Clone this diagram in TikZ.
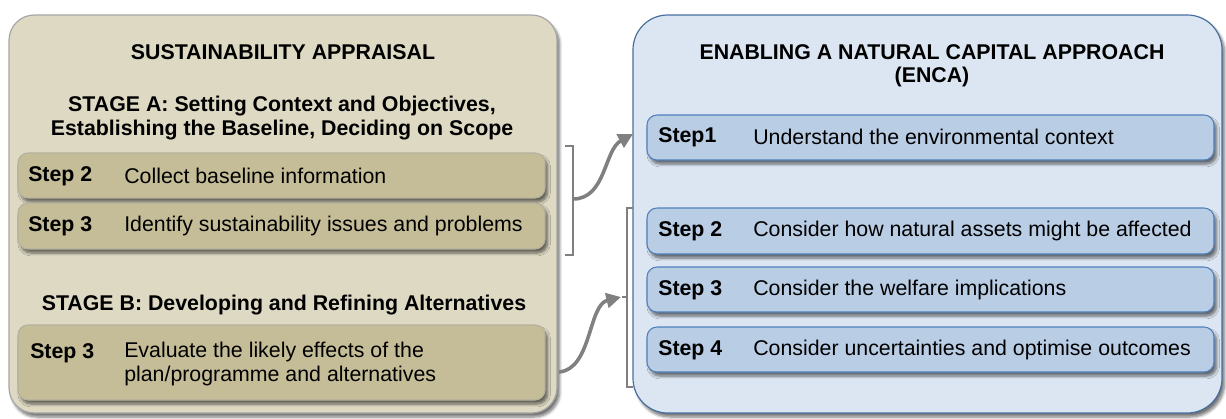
\documentclass[tikz,border=0pt]{standalone}
\usepackage{fontspec}
\setmainfont{Liberation Sans}
\usetikzlibrary{arrows.meta,fit,shadows.blur}
\definecolor{saback}{HTML}{DDD9C3}
\definecolor{saline}{HTML}{A6A6A6}
\definecolor{sastep}{HTML}{C4BD97}
\definecolor{sastepline}{HTML}{B4B09E}
\definecolor{enback}{HTML}{DCE6F2}
\definecolor{enline}{HTML}{4A6FA0}
\definecolor{enstep}{HTML}{B9CDE5}
\definecolor{enstepline}{HTML}{4F81BD}
\definecolor{conngray}{HTML}{808080}
\begin{document}
\begin{tikzpicture}[x=0.75pt, y=-0.75pt,
    every node/.style={font=\fontsize{16}{17.5}\selectfont, inner sep=0pt},
    shade/.style={blur shadow={shadow xshift=2pt, shadow yshift=-3pt, shadow blur steps=6, shadow opacity=55}},
    sabox/.style={shade, fill=saback, draw=saline, line width=0.9pt, rounded corners=19pt},
    enbox/.style={shade, fill=enback, draw=enline, line width=0.9pt, rounded corners=26pt},
    sastepbox/.style={shade, fill=sastep, draw=sastepline, line width=0.8pt, rounded corners=7.5pt},
    enstepbox/.style={shade, fill=enstep, draw=enstepline, line width=0.8pt, rounded corners=7.5pt},
    title/.style={font=\fontsize{16}{17.5}\selectfont\bfseries, align=center},
    lbl/.style={anchor=west, font=\fontsize{16}{17.5}\selectfont\bfseries},
    txt/.style={anchor=west, align=left},
    bracket/.style={draw=conngray, line width=2.1pt},
    conn/.style={draw=conngray, line width=2.7pt, -{Triangle[length=11pt,width=11pt]}}]
    \useasboundingbox (0,0) rectangle (1226,418);
    % big boxes
    \node[sabox, fit={(9,15) (557,413)}] (sa) {};
    \node[enbox, fit={(633,15) (1222,413)}] (en) {};
    % sustainability appraisal
    \node[title] (satitle) at (283,52) {SUSTAINABILITY APPRAISAL};
    \node[title] (stagea) at (282,118) {STAGE A: Setting Context and Objectives,\\Establishing the Baseline, Deciding on Scope};
    \node[sastepbox, fit={(18,153) (545,198)}] (sa2) {};
    \node[sastepbox, fit={(18,203) (545,249)}] (sa3) {};
    \node[title] (stageb) at (284,305) {STAGE B: Developing and Refining Alternatives};
    \node[sastepbox, fit={(18,325) (545,400)}] (sab3) {};
    \node[lbl] (sa2l) at (28,176) {Step 2};
    \node[txt] (sa2t) at (124,176) {Collect baseline information};
    \node[lbl] (sa3l) at (28,226) {Step 3};
    \node[txt] (sa3t) at (124,226) {Identify sustainability issues and problems};
    \node[lbl] (sab3l) at (30,353) {Step 3};
    \node[txt] (sab3t) at (124,364) {Evaluate the likely effects of the\\plan/programme and alternatives};
    % enca
    \node[title] (entitle) at (932,66) {ENABLING A NATURAL CAPITAL APPROACH\\(ENCA)};
    \node[enstepbox, fit={(647,115) (1214,160)}] (en1) {};
    \node[enstepbox, fit={(647,208) (1214,254)}] (en2) {};
    \node[enstepbox, fit={(647,267) (1214,312)}] (en3) {};
    \node[enstepbox, fit={(647,327) (1214,372)}] (en4) {};
    \node[lbl] (en1l) at (658,137) {Step1};
    \node[txt] (en1t) at (753,137) {Understand the environmental context};
    \node[lbl] (en2l) at (658,231) {Step 2};
    \node[txt] (en2t) at (753,231) {Consider how natural assets might be affected};
    \node[lbl] (en3l) at (658,290) {Step 3};
    \node[txt] (en3t) at (753,290) {Consider the welfare implications};
    \node[lbl] (en4l) at (658,350) {Step 4};
    \node[txt] (en4t) at (753,350) {Consider uncertainties and optimise outcomes};
    % brackets
    \coordinate (bamid) at (573,199);
    \coordinate (bbmid) at (627,297);
    \draw[bracket] (565,146) -- (573,146) -- (573,255) -- (565,255);
    \draw[bracket] (633,208) -- (627,208) -- (627,387) -- (633,387);
    \draw[bracket] (bbmid) -- ++(-5,0);
    % arrows
    \coordinate (en1in) at (633,134);
    \coordinate (sab3out) at (559,372);
    \coordinate (bbin) at (621,297);
    \draw[conn] (bamid) .. controls (606,199) and (604,150) .. (en1in);
    \draw[conn] (sab3out) .. controls (592,369) and (588,305) .. (bbin);
\end{tikzpicture}
\end{document}
